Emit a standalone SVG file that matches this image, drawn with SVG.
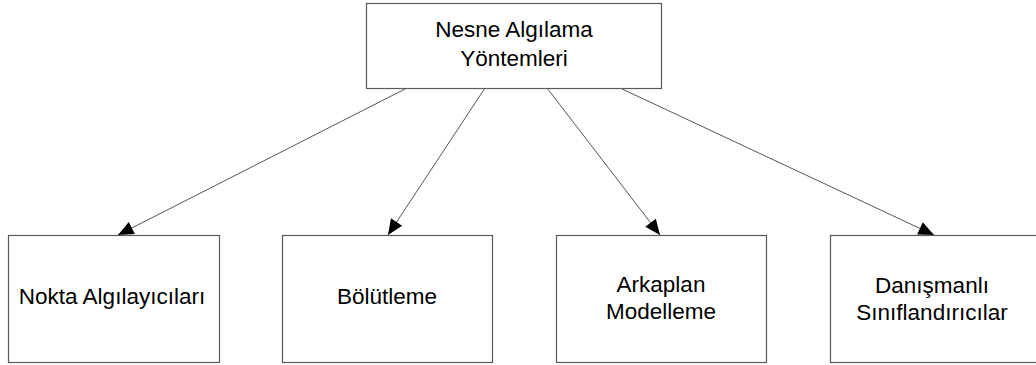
<svg xmlns="http://www.w3.org/2000/svg" width="1036" height="365" viewBox="0 0 1036 365">
  <style>
    .box { fill: #ffffff; stroke: #5a5a5a; stroke-width: 1.2; }
    .lbl { font-family: "Liberation Sans", Arial, sans-serif; font-size: 22.5px; fill: #000000; text-anchor: middle; }
    .edge { stroke: #555555; stroke-width: 1; fill: none; marker-end: url(#arrow); }
  </style>
  <defs>
    <marker id="arrow" markerUnits="userSpaceOnUse" markerWidth="20" markerHeight="16" viewBox="-16 -8 17 16" refX="0" refY="0" orient="auto">
      <path d="M0,0 L-15.5,-6.7 L-15.5,6.7 Z" fill="#000000"/>
    </marker>
  </defs>
  <rect width="1036" height="365" fill="#ffffff"/>

  <!-- connectors: root to each category -->
  <g id="connectors">
    <line class="edge" x1="407" y1="88" x2="118" y2="235"/>
    <line class="edge" x1="485" y1="88" x2="388" y2="235"/>
    <line class="edge" x1="547" y1="88" x2="660" y2="235"/>
    <line class="edge" x1="620" y1="88" x2="934" y2="235"/>
  </g>

  <g id="root">
    <rect class="box" x="366.5" y="3.5" width="295" height="85"/>
    <text class="lbl" x="514" y="37">Nesne Algılama</text>
    <text class="lbl" x="514" y="66">Yöntemleri</text>
  </g>

  <g id="nokta">
    <rect class="box" x="8.5" y="235.5" width="211" height="127"/>
    <text class="lbl" x="112" y="304">Nokta Algılayıcıları</text>
  </g>

  <g id="bolutleme">
    <rect class="box" x="282.5" y="235.5" width="210" height="127"/>
    <text class="lbl" x="387" y="304">Bölütleme</text>
  </g>

  <g id="arkaplan">
    <rect class="box" x="556.5" y="235.5" width="210" height="127"/>
    <text class="lbl" x="661" y="291.5">Arkaplan</text>
    <text class="lbl" x="661" y="319">Modelleme</text>
  </g>

  <g id="danismanli">
    <rect class="box" x="830.5" y="235.5" width="210" height="127"/>
    <text class="lbl" x="932" y="292.5">Danışmanlı</text>
    <text class="lbl" x="932" y="320">Sınıflandırıcılar</text>
  </g>
</svg>
